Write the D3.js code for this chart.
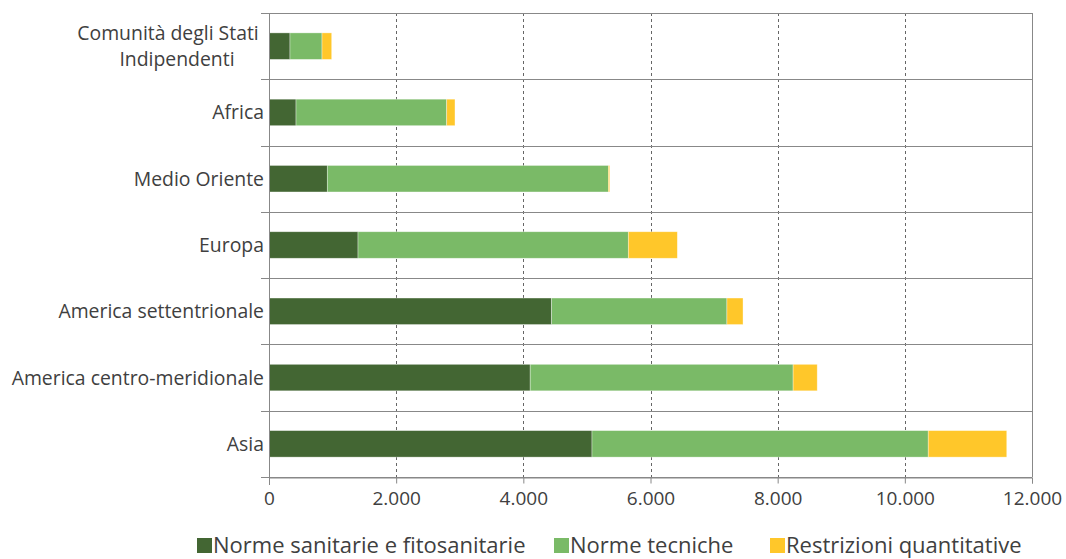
<!DOCTYPE html>
<html><head><meta charset="utf-8">
<script src="https://cdn.jsdelivr.net/npm/d3@7"></script>
<style>
html,body{margin:0;padding:0;background:#fff;}
svg{display:block;font-family:"Open Sans",sans-serif;}
</style></head>
<body>
<svg id="c" width="1066" height="559"></svg>
<script>
const categories = ["Comunità degli Stati Indipendenti","Africa","Medio Oriente","Europa","America settentrionale","America centro-meridionale","Asia"];
const seriesNames = ["Norme sanitarie e fitosanitarie","Norme tecniche","Restrizioni quantitative"];
const sanitarie = [330, 425, 917, 1400, 4445, 4108, 5080];
const tecniche = [504, 2370, 4420, 4251, 2757, 4135, 5288];
const quantitative = [152, 130, 21, 771, 253, 379, 1235];
const xTicks = [0, 2000, 4000, 6000, 8000, 10000, 12000];
const colors = ["#436633", "#7aba67", "#ffc72a"];

(function(){
const svg = d3.select("#c");
const pLeft = 269, pRight = 1032, pTop = 13, pBottom = 477;
const x = d3.scaleLinear().domain([0, 12000]).range([pLeft, pRight]);
const y = d3.scaleBand().domain(categories).range([pTop, pBottom]).paddingInner(0.6).paddingOuter(0.3);
const yb = d3.scaleBand().domain(categories).range([pTop, pBottom]).padding(0);
const textColor = "#404040";
const fmt = v => d3.format(",")(v).replace(/,/g, ".");

svg.append("g").selectAll("line").data(xTicks.filter(t => t > 0 && t < 12000)).join("line")
  .attr("x1", d => Math.round(x(d)) + 0.5).attr("x2", d => Math.round(x(d)) + 0.5).attr("y1", pTop).attr("y2", pBottom)
  .attr("stroke", "#666").attr("stroke-width", 1).attr("stroke-dasharray", "3,3");

const seps = categories.map(c => yb(c)).concat([pBottom]);
svg.append("g").selectAll("line").data(seps).join("line")
  .attr("x1", pLeft - 8).attr("x2", pRight).attr("y1", d => Math.round(d) + 0.5).attr("y2", d => Math.round(d) + 0.5)
  .attr("stroke", "#888").attr("stroke-width", 1);

svg.append("line").attr("x1", pRight + 0.5).attr("x2", pRight + 0.5).attr("y1", pTop).attr("y2", pBottom)
  .attr("stroke", "#888");

const rows = categories.map((c, i) => ({cat: c, v: [sanitarie[i], tecniche[i], quantitative[i]]}));
const stack = d3.stack().keys([0, 1, 2]).value((d, k) => d.v[k]);
const stacked = stack(rows);
svg.append("g").selectAll("g").data(stacked).join("g")
  .attr("fill", (d, i) => colors[i])
  .selectAll("rect").data(d => d).join("rect")
  .attr("x", d => x(d[0])).attr("width", d => x(d[1]) - x(d[0]))
  .attr("y", d => y(d.data.cat)).attr("height", y.bandwidth())
  .attr("stroke", "#ffffff").attr("stroke-opacity", 0.5).attr("stroke-width", 0.7);

svg.append("line").attr("x1", pLeft + 0.5).attr("x2", pLeft + 0.5).attr("y1", pTop).attr("y2", pBottom + 8)
  .attr("stroke", "#888");

const xAxis = d3.axisBottom(x).tickValues(xTicks).tickFormat(fmt).tickSize(6).tickPadding(8.5);
const gx = svg.append("g").attr("transform", `translate(0,${pBottom + 0.5})`).call(xAxis);
gx.select(".domain").attr("stroke", "#888");
gx.selectAll(".tick line").attr("stroke", "#888");
gx.selectAll(".tick text").attr("fill", textColor).attr("font-size", 19).attr("font-family", "Open Sans");

const yl = svg.append("g");
categories.forEach(c => {
  const cy = yb(c) + yb.bandwidth() / 2;
  if (c === "Comunità degli Stati Indipendenti") {
    yl.append("text").attr("text-anchor", "middle").attr("fill", textColor).attr("font-size", 19.4)
      .attr("x", 168).attr("y", cy - 6).text("Comunità degli Stati");
    yl.append("text").attr("text-anchor", "middle").attr("fill", textColor).attr("font-size", 19.4)
      .attr("x", 177).attr("y", cy + 20).text("Indipendenti");
  } else {
    yl.append("text").attr("x", 264).attr("y", cy + 7).attr("text-anchor", "end")
      .attr("fill", textColor).attr("font-size", 19.4).text(c);
  }
});

const legX = [197, 554, 770];
const lg = svg.append("g");
seriesNames.forEach((n, i) => {
  lg.append("rect").attr("x", legX[i]).attr("y", 538).attr("width", 15).attr("height", 15).attr("fill", colors[i]);
  lg.append("text").attr("x", legX[i] + 16).attr("y", 553).attr("fill", textColor).attr("font-size", 22).text(n);
});
})();
</script>
</body></html>
